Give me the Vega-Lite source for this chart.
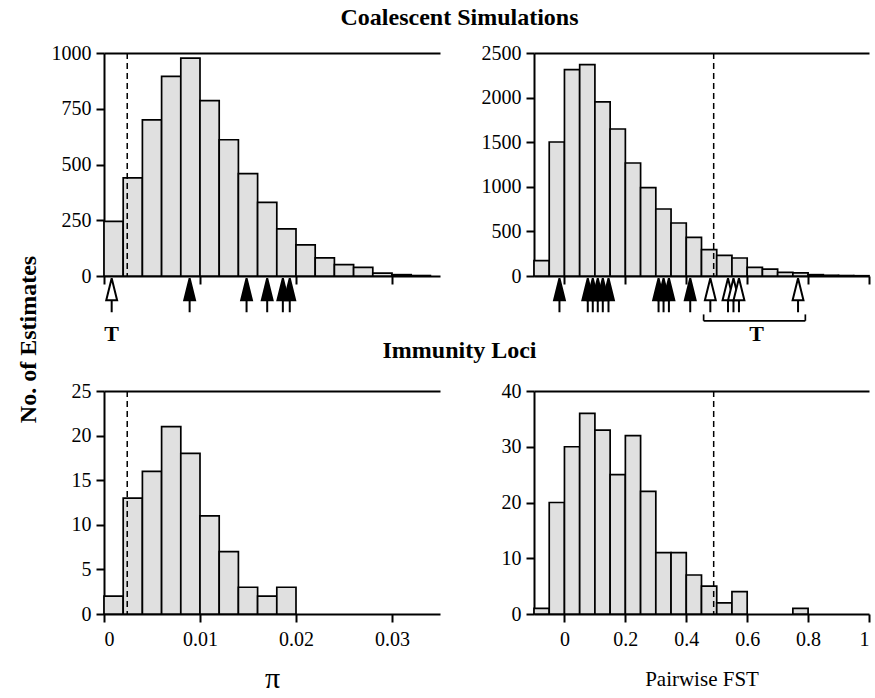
{
  "$schema": "https://vega.github.io/schema/vega-lite/v6.json",
  "background": "white",
  "padding": {"left": 16, "top": 6, "right": 5, "bottom": 0},
  "config": {
    "font": "Liberation Serif, Times New Roman, serif",
    "view": {"stroke": null},
    "axis": {"domainColor": "black", "domainWidth": 2, "tickColor": "black", "tickWidth": 2, "tickSize": 8, "labelFont": "Liberation Serif, Times New Roman, serif", "labelFontSize": 20, "labelColor": "black", "grid": false, "titleFont": "Liberation Serif, Times New Roman, serif", "titleColor": "black", "titleFontWeight": "normal"},
    "axisY": {"labelPadding": 5, "minExtent": 55, "maxExtent": 55, "format": "d"},
    "axisX": {"labelPadding": 7},
    "title": {"font": "Liberation Serif, Times New Roman, serif", "fontSize": 24, "fontWeight": "bold", "color": "black"},
    "text": {"font": "Liberation Serif, Times New Roman, serif"}
  },
  "datasets": {
    "tlBars": [
      {"start": 0, "end": 0.002, "count": 245}, {"start": 0.002, "end": 0.004, "count": 440}, {"start": 0.004, "end": 0.006, "count": 700},
      {"start": 0.006, "end": 0.008, "count": 895}, {"start": 0.008, "end": 0.010, "count": 977}, {"start": 0.010, "end": 0.012, "count": 786},
      {"start": 0.012, "end": 0.014, "count": 611}, {"start": 0.014, "end": 0.016, "count": 459}, {"start": 0.016, "end": 0.018, "count": 330},
      {"start": 0.018, "end": 0.020, "count": 211}, {"start": 0.020, "end": 0.022, "count": 140}, {"start": 0.022, "end": 0.024, "count": 81},
      {"start": 0.024, "end": 0.026, "count": 51}, {"start": 0.026, "end": 0.028, "count": 39}, {"start": 0.028, "end": 0.030, "count": 13},
      {"start": 0.030, "end": 0.032, "count": 6}, {"start": 0.032, "end": 0.034, "count": 2}
    ],
    "tlLine": [{"value": 0.00242}],
    "tlArrows": [
      {"value": 0.0008, "kind": "open"}, {"value": 0.00892, "kind": "filled"}, {"value": 0.01485, "kind": "filled"},
      {"value": 0.0170, "kind": "filled"}, {"value": 0.01863, "kind": "filled"}, {"value": 0.01935, "kind": "filled"}
    ],
    "tlText": [{"value": 0.0008, "text": "T"}],
    "trBars": [
      {"start": -0.1, "end": -0.05, "count": 172}, {"start": -0.05, "end": 0, "count": 1502}, {"start": 0, "end": 0.05, "count": 2313},
      {"start": 0.05, "end": 0.1, "count": 2369}, {"start": 0.1, "end": 0.15, "count": 1951}, {"start": 0.15, "end": 0.2, "count": 1648},
      {"start": 0.2, "end": 0.25, "count": 1267}, {"start": 0.25, "end": 0.3, "count": 990}, {"start": 0.3, "end": 0.35, "count": 751},
      {"start": 0.35, "end": 0.4, "count": 594}, {"start": 0.4, "end": 0.45, "count": 433}, {"start": 0.45, "end": 0.5, "count": 295},
      {"start": 0.5, "end": 0.55, "count": 232}, {"start": 0.55, "end": 0.6, "count": 202}, {"start": 0.6, "end": 0.65, "count": 97},
      {"start": 0.65, "end": 0.7, "count": 78}, {"start": 0.7, "end": 0.75, "count": 41}, {"start": 0.75, "end": 0.8, "count": 34},
      {"start": 0.8, "end": 0.85, "count": 15}, {"start": 0.85, "end": 0.9, "count": 8}, {"start": 0.9, "end": 0.95, "count": 5},
      {"start": 0.95, "end": 1.0, "count": 3}
    ],
    "trLine": [{"value": 0.49}],
    "trArrows": [
      {"value": -0.0164, "kind": "filled"}, {"value": 0.0766, "kind": "filled"}, {"value": 0.093, "kind": "filled"},
      {"value": 0.1094, "kind": "filled"}, {"value": 0.1259, "kind": "filled"}, {"value": 0.1446, "kind": "filled"},
      {"value": 0.309, "kind": "filled"}, {"value": 0.3254, "kind": "filled"}, {"value": 0.343, "kind": "filled"},
      {"value": 0.413, "kind": "filled"}, {"value": 0.479, "kind": "open"}, {"value": 0.537, "kind": "open"},
      {"value": 0.555, "kind": "open"}, {"value": 0.573, "kind": "open"}, {"value": 0.767, "kind": "open"}
    ],
    "trBracket": [{"from": 0.457, "to": 0.791}],
    "trText": [{"value": 0.631, "text": "T"}],
    "blBars": [
      {"start": 0, "end": 0.002, "count": 2}, {"start": 0.002, "end": 0.004, "count": 13}, {"start": 0.004, "end": 0.006, "count": 16},
      {"start": 0.006, "end": 0.008, "count": 21}, {"start": 0.008, "end": 0.010, "count": 18}, {"start": 0.010, "end": 0.012, "count": 11},
      {"start": 0.012, "end": 0.014, "count": 7}, {"start": 0.014, "end": 0.016, "count": 3}, {"start": 0.016, "end": 0.018, "count": 2},
      {"start": 0.018, "end": 0.020, "count": 3}
    ],
    "blLine": [{"value": 0.00242}],
    "brBars": [
      {"start": -0.1, "end": -0.05, "count": 1}, {"start": -0.05, "end": 0, "count": 20}, {"start": 0, "end": 0.05, "count": 30},
      {"start": 0.05, "end": 0.1, "count": 36}, {"start": 0.1, "end": 0.15, "count": 33}, {"start": 0.15, "end": 0.2, "count": 25},
      {"start": 0.2, "end": 0.25, "count": 32}, {"start": 0.25, "end": 0.3, "count": 22}, {"start": 0.3, "end": 0.35, "count": 11},
      {"start": 0.35, "end": 0.4, "count": 11}, {"start": 0.4, "end": 0.45, "count": 7}, {"start": 0.45, "end": 0.5, "count": 5},
      {"start": 0.5, "end": 0.55, "count": 2}, {"start": 0.55, "end": 0.6, "count": 4}, {"start": 0.75, "end": 0.8, "count": 1}
    ],
    "brLine": [{"value": 0.49}]
  },
  "title": {"text": "No. of Estimates", "orient": "left", "anchor": "middle", "offset": 8, "dx": 10},
  "spacing": -6,
  "vconcat": [
    {
      "title": {"text": "Coalescent Simulations", "anchor": "middle", "offset": 13},
      "spacing": 39,
      "hconcat": [
        {
          "bounds": "flush",
          "spacing": 0,
          "vconcat": [
            {
              "width": 336, "height": 223,
              "resolve": {"axis": {"x": "independent"}},
              "layer": [
                {
                  "data": {"name": "tlBars"},
                  "mark": {"type": "rect", "fill": "#e0e0e0", "stroke": "black", "strokeWidth": 1.7},
                  "encoding": {
                    "x": {"field": "start", "type": "quantitative", "scale": {"domain": [0, 0.035], "nice": false, "zero": false}, "axis": {"values": [0, 0.01, 0.02, 0.03], "labels": false, "title": null}},
                    "x2": {"field": "end"},
                    "y": {"field": "count", "type": "quantitative", "scale": {"domain": [0, 1000], "nice": false}, "axis": {"values": [0, 250, 500, 750, 1000], "title": null}},
                    "y2": {"datum": 0}
                  }
                },
                {
                  "data": {"name": "tlLine"},
                  "mark": {"type": "rule", "strokeDash": [6, 4], "strokeWidth": 1.5, "color": "black"},
                  "encoding": {"x": {"field": "value", "type": "quantitative", "axis": {"orient": "top", "labels": false, "ticks": false, "title": null}}}
                }
              ]
            },
            {
              "width": 336, "height": 64,
              "layer": [
                {
                  "data": {"name": "tlArrows"},
                  "mark": {"type": "point", "shape": "M0,-1L0.32,0.3L-0.32,0.3ZM0,0.3L0,1", "size": 1156, "stroke": "black", "strokeWidth": 2, "opacity": 1, "filled": true},
                  "encoding": {
                    "x": {"field": "value", "type": "quantitative", "scale": {"domain": [0, 0.035], "nice": false, "zero": false}, "axis": null},
                    "y": {"datum": "arrows", "type": "nominal", "scale": {"type": "point", "domain": ["s0", "s1", "s2", "arrows", "s4", "s5", "bracketTop", "bracket", "s8", "label", "s10"], "padding": 0}, "axis": null},
                    "fill": {"field": "kind", "type": "nominal", "scale": {"domain": ["filled", "open"], "range": ["black", "white"]}, "legend": null}
                  }
                },
                {
                  "data": {"name": "tlText"},
                  "mark": {"type": "text", "fontWeight": "bold", "fontSize": 22, "baseline": "middle", "color": "black"},
                  "encoding": {
                    "x": {"field": "value", "type": "quantitative"},
                    "y": {"datum": "label", "type": "nominal"},
                    "text": {"field": "text"}
                  }
                }
              ]
            }
          ]
        },
        {
          "bounds": "flush",
          "spacing": 0,
          "vconcat": [
            {
              "width": 335, "height": 223,
              "resolve": {"axis": {"x": "independent"}},
              "layer": [
                {
                  "data": {"name": "trBars"},
                  "mark": {"type": "rect", "fill": "#e0e0e0", "stroke": "black", "strokeWidth": 1.7},
                  "encoding": {
                    "x": {"field": "start", "type": "quantitative", "scale": {"domain": [-0.1, 1], "nice": false, "zero": false}, "axis": {"values": [0, 0.2, 0.4, 0.6, 0.8, 1], "labels": false, "title": null}},
                    "x2": {"field": "end"},
                    "y": {"field": "count", "type": "quantitative", "scale": {"domain": [0, 2500], "nice": false}, "axis": {"values": [0, 500, 1000, 1500, 2000, 2500], "title": null}},
                    "y2": {"datum": 0}
                  }
                },
                {
                  "data": {"name": "trLine"},
                  "mark": {"type": "rule", "strokeDash": [6, 4], "strokeWidth": 1.5, "color": "black"},
                  "encoding": {"x": {"field": "value", "type": "quantitative", "axis": {"orient": "top", "labels": false, "ticks": false, "title": null}}}
                }
              ]
            },
            {
              "width": 335, "height": 64,
              "layer": [
                {
                  "data": {"name": "trArrows"},
                  "mark": {"type": "point", "shape": "M0,-1L0.32,0.3L-0.32,0.3ZM0,0.3L0,1", "size": 1156, "stroke": "black", "strokeWidth": 2, "opacity": 1, "filled": true},
                  "encoding": {
                    "x": {"field": "value", "type": "quantitative", "scale": {"domain": [-0.1, 1], "nice": false, "zero": false}, "axis": null},
                    "y": {"datum": "arrows", "type": "nominal", "scale": {"type": "point", "domain": ["s0", "s1", "s2", "arrows", "s4", "s5", "bracketTop", "bracket", "s8", "label", "s10"], "padding": 0}, "axis": null},
                    "fill": {"field": "kind", "type": "nominal", "scale": {"domain": ["filled", "open"], "range": ["black", "white"]}, "legend": null}
                  }
                },
                {
                  "data": {"name": "trBracket"},
                  "mark": {"type": "rule", "strokeWidth": 1.7, "color": "black"},
                  "encoding": {
                    "x": {"field": "from", "type": "quantitative"},
                    "x2": {"field": "to"},
                    "y": {"datum": "bracket", "type": "nominal"}
                  }
                },
                {
                  "data": {"name": "trBracket"},
                  "transform": [{"fold": ["from", "to"], "as": ["end", "value"]}],
                  "mark": {"type": "rule", "strokeWidth": 1.7, "color": "black"},
                  "encoding": {
                    "x": {"field": "value", "type": "quantitative"},
                    "y": {"datum": "bracketTop", "type": "nominal"},
                    "y2": {"datum": "bracket"}
                  }
                },
                {
                  "data": {"name": "trText"},
                  "mark": {"type": "text", "fontWeight": "bold", "fontSize": 22, "baseline": "middle", "color": "black"},
                  "encoding": {
                    "x": {"field": "value", "type": "quantitative"},
                    "y": {"datum": "label", "type": "nominal"},
                    "text": {"field": "text"}
                  }
                }
              ]
            }
          ]
        }
      ]
    },
    {
      "title": {"text": "Immunity Loci", "anchor": "middle", "offset": 18},
      "spacing": 39,
      "hconcat": [
        {
          "width": 336, "height": 223,
          "resolve": {"axis": {"x": "independent"}},
          "layer": [
            {
              "data": {"name": "blBars"},
              "mark": {"type": "rect", "fill": "#e0e0e0", "stroke": "black", "strokeWidth": 1.7},
              "encoding": {
                "x": {"field": "start", "type": "quantitative", "scale": {"domain": [0, 0.035], "nice": false, "zero": false}, "axis": {"values": [0, 0.01, 0.02, 0.03], "format": "~g", "title": "π", "titleFont": "Liberation Serif, Times New Roman, serif", "titleFontSize": 30, "titlePadding": 14}},
                "x2": {"field": "end"},
                "y": {"field": "count", "type": "quantitative", "scale": {"domain": [0, 25], "nice": false}, "axis": {"values": [0, 5, 10, 15, 20, 25], "title": null}},
                "y2": {"datum": 0}
              }
            },
            {
              "data": {"name": "blLine"},
              "mark": {"type": "rule", "strokeDash": [6, 4], "strokeWidth": 1.5, "color": "black"},
              "encoding": {"x": {"field": "value", "type": "quantitative", "axis": {"orient": "top", "labels": false, "ticks": false, "title": null}}}
            }
          ]
        },
        {
          "width": 335, "height": 223,
          "resolve": {"axis": {"x": "independent"}},
          "layer": [
            {
              "data": {"name": "brBars"},
              "mark": {"type": "rect", "fill": "#e0e0e0", "stroke": "black", "strokeWidth": 1.7},
              "encoding": {
                "x": {"field": "start", "type": "quantitative", "scale": {"domain": [-0.1, 1], "nice": false, "zero": false}, "axis": {"values": [0, 0.2, 0.4, 0.6, 0.8, 1], "format": "~g", "title": "Pairwise FST", "titleFont": "Liberation Serif, Times New Roman, serif", "titleFontSize": 21, "titlePadding": 19}},
                "x2": {"field": "end"},
                "y": {"field": "count", "type": "quantitative", "scale": {"domain": [0, 40], "nice": false}, "axis": {"values": [0, 10, 20, 30, 40], "title": null}},
                "y2": {"datum": 0}
              }
            },
            {
              "data": {"name": "brLine"},
              "mark": {"type": "rule", "strokeDash": [6, 4], "strokeWidth": 1.5, "color": "black"},
              "encoding": {"x": {"field": "value", "type": "quantitative", "axis": {"orient": "top", "labels": false, "ticks": false, "title": null}}}
            }
          ]
        }
      ]
    }
  ]
}
